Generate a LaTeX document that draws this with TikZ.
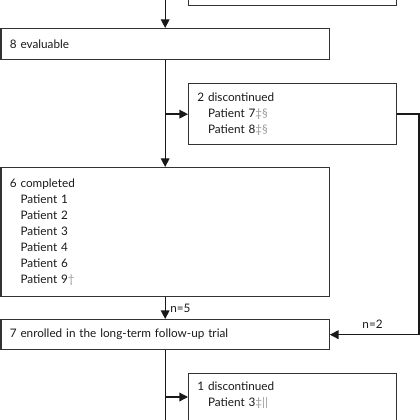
\documentclass[tikz,border=0pt]{standalone}
\usepackage{fontspec}
\setmainfont{Lato}
\usetikzlibrary{positioning,arrows.meta}
\newcommand{\mk}[1]{\textcolor{black!40}{#1}}
\newcommand{\pat}{\hspace*{8pt}Patient~}
\begin{document}
\begin{tikzpicture}[x=0.75pt, y=-0.75pt,
  box/.style = {draw=black!80, line width=1pt, anchor=north west, inner xsep=6.5pt,
    align=left, font=\fontsize{8.8}{12}\selectfont, text=black!90},
  wide/.style = {box, text width=233pt, minimum width=246pt},
  narrow/.style = {box, text width=143pt, minimum width=156pt},
  link/.style = {line width=1pt, draw=black!90},
  tip/.style = {link, -{Triangle[length=6.5pt, width=6.5pt]}}]
\useasboundingbox (0,0) rectangle (420,420);
\clip (0,0) rectangle (420,420);
\node [narrow, minimum height=33.75pt] (start) at (188,-40) {};
\node [wide, minimum height=23.25pt] (evaluable) at (0.5,28) {8 evaluable};
\node [narrow, minimum height=45.75pt] (disc1) at (188,83)
  {2 discontinued\\ \pat 7\mk{‡§}\\ \pat 8\mk{‡§}};
\node [wide, minimum height=96.75pt] (completed) at (0.5,167)
  {6 completed\\ \pat 1\\ \pat 2\\ \pat 3\\ \pat 4\\ \pat 6\\ \pat 9\mk{†}};
\node [wide, minimum height=22.5pt] (enrolled) at (0.5,319)
  {7 enrolled in the long-term follow-up trial};
\node [narrow, minimum height=45.75pt] (disc2) at (188,373)
  {1 discontinued\\ \pat 3\mk{‡||}\\ \strut};
\coordinate (top) at (evaluable.north |- 0,-10);
\coordinate (bottom) at (enrolled.south |- 0,440);
\draw [tip] (top) -- (evaluable.north);
\draw [tip] (evaluable.south) -- (completed.north);
\draw [tip] (evaluable.south |- disc1.west) -- (disc1.west);
\draw [tip] (completed.south) -- (enrolled.north)
  node [midway, right, font=\fontsize{8.8}{12}\selectfont, text=black!90] {n=5};
\draw [tip] (disc1.east) -- ++(21.5,0) |- (enrolled.east)
  node [pos=0.76, above=1pt, font=\fontsize{8.8}{12}\selectfont, text=black!90] {n=2};
\draw [link] (enrolled.south) -- (bottom);
\draw [tip] ([yshift=-18pt]disc2.north west -| bottom) -- ([yshift=-18pt]disc2.north west);
\end{tikzpicture}
\end{document}
